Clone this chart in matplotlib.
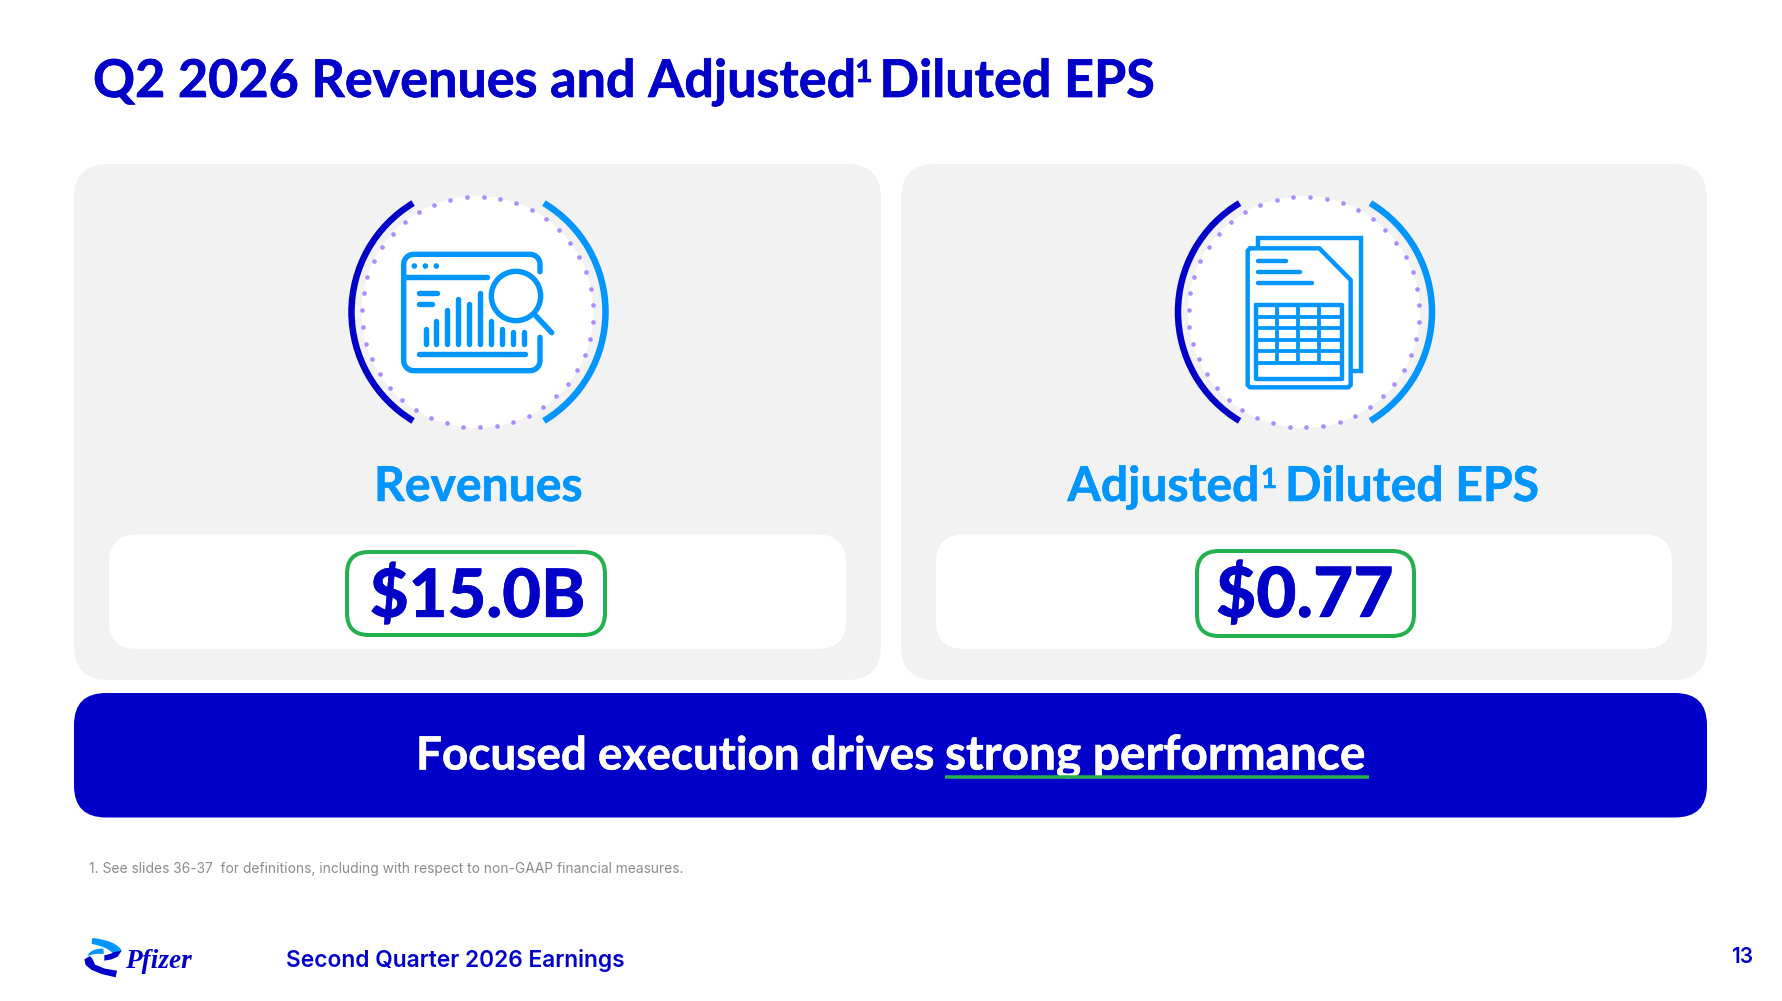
import numpy as np
import matplotlib
matplotlib.use("Agg")
import matplotlib.pyplot as plt
import matplotlib.patheffects as pe
from matplotlib.patches import FancyBboxPatch, Circle, Arc, PathPatch, Polygon
from matplotlib.path import Path

# ---- content ----
title_main = "Q2 2026 Revenues and Adjusted"
title_tail = "Diluted EPS"
sup_mark = "1"
kpi_names = ["Revenues", "Adjusted"]
kpi_values = ["$15.0B", "$0.77"]
banner_parts = ["Focused execution drives", "strong performance"]
footnote = "1. See slides 36-37  for definitions, including with respect to non-GAAP financial measures."
footer = "Second Quarter 2026 Earnings"
page_no = "13"
bar_tops = [447, 422, 390, 357, 372, 338, 422, 447, 455, 455]

# ---- style ----
NAVY = "#0000C9"
SKY = "#0095FF"
PANEL = "#F2F2F2"
GREEN = "#22B14C"
DOT = "#AB8CFF"
GRAY = "#8C8C8C"
HEAD = "Lato"
BODY = "Inter"
PT = 0.72

fig = plt.figure(figsize=(17.83, 10.01), dpi=100, facecolor="white")
ax = fig.add_axes([0, 0, 1, 1])
ax.set_xlim(0, 1783)
ax.set_ylim(1001, 0)
ax.axis("off")


def rbox(x0, y0, x1, y1, r, fc="none", ec="none", lw=0, z=1):
    ax.add_patch(FancyBboxPatch((x0 + r, y0 + r), x1 - x0 - 2 * r, y1 - y0 - 2 * r,
                                boxstyle=f"round,pad={r},rounding_size={r}",
                                fc=fc, ec=ec, lw=lw * PT, zorder=z))


def line(z_pts, ox, oy, color=SKY, lw=5.4, cap="round", join="round", z=4):
    xs = [ox + p[0] / 3 for p in z_pts]
    ys = [oy + p[1] / 3 for p in z_pts]
    ax.plot(xs, ys, color=color, lw=lw * PT, solid_capstyle=cap, solid_joinstyle=join, zorder=z)


def badge(cx, cy):
    ax.add_patch(Circle((cx, cy), 116, fc="white", ec="none", zorder=2))
    ax.add_patch(Arc((cx + 1, cy), 2 * 127, 2 * 127, theta1=121, theta2=239, color=NAVY, lw=6.5 * PT, zorder=3))
    ax.add_patch(Arc((cx + 1, cy), 2 * 127, 2 * 127, theta1=-59, theta2=59, color=SKY, lw=6.5 * PT, zorder=3))
    a = np.deg2rad(np.arange(0, 360, 360 / 43) - 3.3)
    ax.scatter(cx + 115.5 * np.cos(a), cy + 115.5 * np.sin(a), s=11, color=DOT, lw=0, zorder=4)


def head(x, y, text, size, color=NAVY, ha="left", weight="bold", bold=0.5):
    return ax.text(x, y, text, fontsize=size, color=color, fontweight=weight, family=HEAD, ha=ha,
                   va="baseline", zorder=6,
                   path_effects=[pe.withStroke(linewidth=bold, foreground=color)])


# ---- cards ----
for x0, x1 in [(74, 881), (901, 1707)]:
    rbox(x0, 164, x1, 680, 34, fc=PANEL)
    rbox(x0 + 35, 534.5, x1 - 35, 649, 28, fc="white", z=2)

# ---- revenue badge ----
badge(477.5, 312)
ox, oy = 320, 180
r = 30
arc = lambda cx, cy, a0, a1: [(cx + r * np.cos(t), cy + r * np.sin(t)) for t in np.linspace(a0, a1, 12)]
frame = [(660, 275)] + arc(630, 253, 0, -np.pi / 2) + arc(281, 253, -np.pi / 2, -np.pi) + \
        arc(281, 542, np.pi, np.pi / 2) + arc(630, 542, np.pi / 2, 0) + [(660, 472)]
line(frame, ox, oy)
line([(251, 291), (500, 291)], ox, oy)
for zx in [283, 316, 349]:
    ax.add_patch(Circle((ox + zx / 3, oy + 258 / 3), 2.8, fc=SKY, ec="none", zorder=4))
line([(298, 340), (352, 340)], ox, oy)
line([(298, 373), (335, 373)], ox, oy)
for zx, top in zip([317, 349, 382, 415, 447, 481, 514, 546, 579, 612], bar_tops):
    line([(zx, 492), (zx, top)], ox, oy)
line([(298, 523), (615, 523)], ox, oy)
ax.add_patch(Circle((ox + 588 / 3, oy + 348 / 3), 74 / 3, fc="none", ec=SKY, lw=5.4 * PT, zorder=4))
line([(648, 408), (695, 458)], ox, oy)

# ---- EPS badge ----
badge(1304, 312)
ox, oy = 1150, 180
line([(323, 205), (323, 175), (632, 175), (632, 572), (603, 572)], ox, oy, lw=4.4, join="miter")
line([(300, 205), (508, 205), (602, 300), (602, 615), (595, 622), (300, 622), (293, 615), (293, 212), (300, 205)], ox, oy, lw=4.4)
for zx, zy in [(407, 244), (450, 276), (487, 308)]:
    line([(323, zy), (zx, zy)], ox, oy, lw=4.4)
line([(318, 376), (575, 376), (575, 598), (318, 598), (318, 376)], ox, oy, lw=4.4)
for zy in [411, 445, 479, 513, 548]:
    line([(318, zy), (575, zy)], ox, oy, lw=3.8, cap="butt")
for zx in [381, 444, 507]:
    line([(zx, 376), (zx, 548)], ox, oy, lw=3.8, cap="butt")

# ---- heading text ----
head(93, 97, title_main, 37.5)
head(855, 82, sup_mark, 22)
head(879.5, 97, title_tail, 37.5)
head(478, 501, kpi_names[0], 34.6, color=SKY, ha="center", bold=0.4)
head(1067.5, 501, kpi_names[1], 34.6, color=SKY, bold=0.4)
head(1261, 488, sup_mark, 20, color=SKY, bold=0.4)
head(1285, 501, title_tail, 34.6, color=SKY, bold=0.4)

# ---- KPI values ----
for cx, value, size, (x0, x1, y0, y1) in zip([477.5, 1305], kpi_values, [48.2, 50],
                                             [(347, 605, 552, 635), (1197, 1414, 551, 636)]):
    rbox(x0, y0, x1, y1, 22, ec=GREEN, lw=4, z=5)
    head(cx, 617, value, size, ha="center", weight="black", bold=0.3)

# ---- banner ----
rbox(74, 693, 1707, 817.5, 32, fc=NAVY)
head(416, 769.5, banner_parts[0], 33, color="white", bold=0.4)
head(945, 769.5, banner_parts[1], 34.4, color="white", bold=0.4)
ax.plot([945, 1369], [777, 777], color=GREEN, lw=3.5 * PT, zorder=7, solid_capstyle="butt")

# ---- footer ----
ax.text(89, 869, footnote, fontsize=9.93, color=GRAY, family=BODY, va="center", zorder=6)
ax.text(286.5, 960, footer, fontsize=16.35, color=NAVY, fontweight="semibold", family=BODY, va="center", zorder=6)
ax.text(1742, 957, page_no, fontsize=15, color=NAVY, fontweight="semibold", family=BODY, ha="center", va="center", zorder=6)

# ---- logo (zoom coordinates around 75,930) ----
def blob(verts, color):
    codes = [Path.MOVETO] + [Path.CURVE4] * (len(verts) - 2) + [Path.CLOSEPOLY]
    pts = [(75 + a / 3, 930 + b / 3) for a, b in verts]
    ax.add_patch(PathPatch(Path(pts, codes), fc=color, ec="none", zorder=6))

blob([(52, 24), (95, 28), (130, 42), (140, 62), (135, 68), (125, 72), (118, 78), (110, 60), (85, 48), (50, 42), (52, 24)], SKY)
blob([(38, 78), (42, 64), (60, 55), (85, 56), (86, 62), (86, 66), (86, 72), (68, 70), (52, 72), (38, 78), (38, 78)], SKY)
ax.add_patch(Polygon([(75 + a / 3, 930 + b / 3) for a, b in [(140, 62), (128, 80), (110, 88), (88, 92), (88, 76), (105, 72), (118, 66)]], fc=NAVY, ec="none", zorder=6))
ax.add_patch(Polygon([(75 + a / 3, 930 + b / 3) for a, b in [(28, 88), (32, 105), (50, 120), (80, 132), (122, 142), (126, 122), (90, 116), (60, 104), (52, 86), (45, 78)]], fc=NAVY, ec="none", zorder=6))
ax.text(125, 968, "Pfizer", fontsize=19.6, color=NAVY, fontweight="bold", style="italic", family="Liberation Serif", va="baseline", zorder=6)

fig.savefig("out.png", dpi=100, facecolor="white")
